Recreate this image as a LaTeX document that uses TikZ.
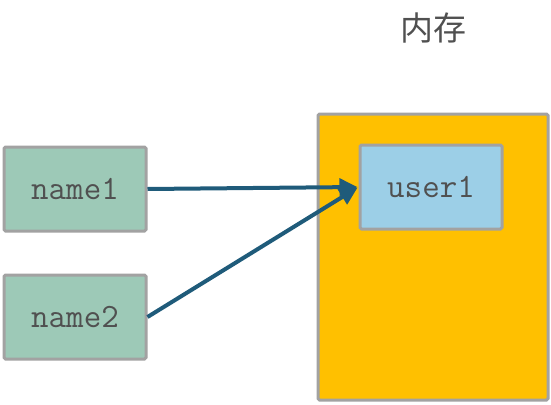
\documentclass[tikz,border=0pt]{standalone}
\usepackage{fontspec}
\usepackage{xcolor}
\usepackage{tikz}
\usetikzlibrary{positioning, arrows.meta}
\newfontfamily\cjk{Noto Sans CJK SC}
\definecolor{namegreen}{HTML}{9DC9B7}
\definecolor{memyellow}{HTML}{FFC000}
\definecolor{userblue}{HTML}{9CCFE7}
\definecolor{edgegray}{HTML}{A2A2A2}
\definecolor{textgray}{HTML}{505050}
\definecolor{arrowblue}{HTML}{1F5B7A}

\begin{document}
\begin{tikzpicture}[
    x=1pt, y=-1pt,
    >={Triangle[length=18pt,width=17pt]},
    box/.style={
        draw=edgegray,
        line width=3pt,
        rounded corners=1.5pt,
        minimum width=142pt,
        minimum height=84pt,
        align=center,
        text=textgray,
        font=\fontsize{34}{38}\selectfont\ttfamily
    },
    ref/.style={
        ->,
        draw=arrowblue,
        line width=4pt,
        shorten >=1pt
    }
]
  \useasboundingbox (0,0) rectangle (551,404);

  \node[box,fill=memyellow,minimum width=230pt,minimum height=286pt] (mem) at (433,257) {};
  \node[text=textgray,font=\fontsize{33}{36}\selectfont\cjk] (title) at (433,28) {内存};
  \node[box,fill=userblue] (user) at (431,187) {user1};
  \node[box,fill=namegreen] (name1) at (75,189) {name1};
  \node[box,fill=namegreen,below=41pt of name1] (name2) {name2};

  \draw[ref] (name1.east) -- (user.west);
  \draw[ref] (name2.east) -- (user.west);
\end{tikzpicture}
\end{document}
